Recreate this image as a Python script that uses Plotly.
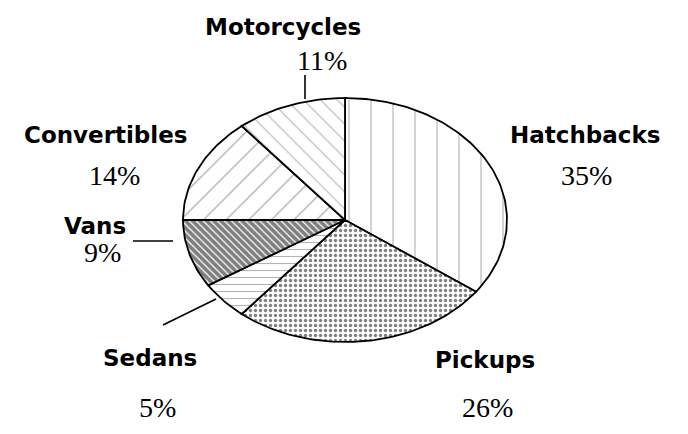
import numpy as np
import plotly.graph_objects as go

# slice data, clockwise from 12 o'clock
categories = ["Hatchbacks", "Pickups", "Sedans", "Vans", "Convertibles", "Motorcycles"]
shares = [35, 26, 5, 9, 14, 11]
pct_labels = ["35%", "26%", "5%", "9%", "14%", "11%"]

# pattern per slice (shape, spacing, solidity, colour)
patterns = [
    dict(shape="|", size=22, solidity=0.06, fgcolor="#7a7a7a"),
    dict(shape=".", size=5, solidity=0.35, fgcolor="#000000"),
    dict(shape="-", size=7, solidity=0.16, fgcolor="#6a6a6a"),
    dict(shape="\\", size=5, solidity=0.75, fgcolor="#000000"),
    dict(shape="/", size=16, solidity=0.09, fgcolor="#6a6a6a"),
    dict(shape="\\", size=12, solidity=0.1, fgcolor="#6a6a6a"),
]

# ellipse geometry in pixel units
cx, cy, rx, ry = 345, 220, 162, 122
# page offset of the plot inside the browser
off = 8

fig = go.Figure()

total = sum(shares)
start = 0.0
for name, val, pat in zip(categories, shares, patterns):
    end = start + val / total * 2 * np.pi
    t = np.linspace(start, end, max(int(val * 3), 8))
    xs = np.concatenate([[cx], cx + rx * np.sin(t), [cx]])
    ys = np.concatenate([[cy], cy - ry * np.cos(t), [cy]])
    fig.add_trace(go.Scatter(
        x=xs, y=ys, mode="lines", fill="toself",
        fillcolor="white",
        fillpattern=dict(bgcolor="white", **pat),
        line=dict(color="black", width=1.8),
        name=name, hoverinfo="name", showlegend=False,
    ))
    start = end

# label positions (pixels)
name_pos = {
    "Motorcycles": (283, 27),
    "Convertibles": (106, 135),
    "Hatchbacks": (585, 135),
    "Vans": (95, 226),
    "Sedans": (150, 358),
    "Pickups": (485, 360),
}
pct_pos = {
    "Motorcycles": (322, 60),
    "Convertibles": (114, 175),
    "Hatchbacks": (586, 175),
    "Vans": (102, 252),
    "Sedans": (157, 407),
    "Pickups": (487, 407),
}

annotations = []
for name, pct in zip(categories, pct_labels):
    x, y = name_pos[name]
    annotations.append(dict(
        x=x, y=y, xref="x", yref="y", text="<b>" + name + "</b>",
        showarrow=False,
        font=dict(family="DejaVu Sans", size=23, color="black"),
    ))
    x, y = pct_pos[name]
    annotations.append(dict(
        x=x, y=y, xref="x", yref="y", text=pct,
        showarrow=False,
        font=dict(family="Liberation Serif", size=28, color="black"),
    ))

leaders = [
    dict(x0=305, y0=75, x1=305, y1=99),
    dict(x0=133, y0=241, x1=173, y1=241),
    dict(x0=163, y0=325, x1=216, y1=299),
]
shapes = [dict(type="line", xref="x", yref="y", line=dict(color="black", width=1.6), **l)
          for l in leaders]

fig.update_layout(
    width=688, height=434,
    margin=dict(l=0, r=0, t=0, b=0),
    paper_bgcolor="white", plot_bgcolor="white",
    xaxis=dict(range=[off, 688 + off], visible=False, fixedrange=True),
    yaxis=dict(range=[434 + off, off], visible=False, fixedrange=True),
    annotations=annotations,
    shapes=shapes,
)

fig.write_html("out.html")
